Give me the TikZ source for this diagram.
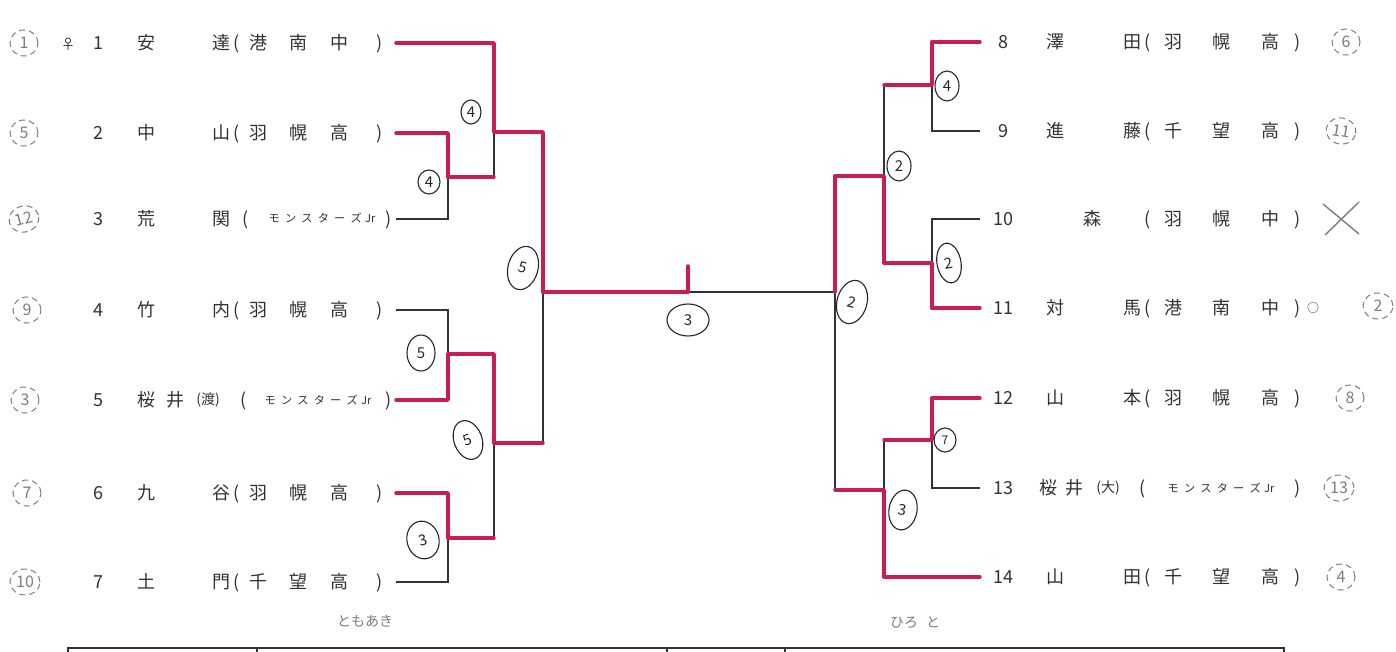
\documentclass[tikz,border=0pt]{standalone}
\usepackage{fontspec}
\setmainfont{Noto Sans CJK JP}
\usetikzlibrary{shapes.geometric}
\definecolor{pen}{RGB}{200,30,80}
\definecolor{ink}{RGB}{50,50,50}
\definecolor{pencil}{RGB}{125,125,125}
\newcommand\kana[1]{{\fontsize{5.6}{6}\selectfont #1}}
\newcommand\Lname[5]{%
  \node[txt] (ln#1) at (98,#2) {#3};
  \node[txt] (la#1) at (146,#2) {#4};
  \node[txt] (lb#1) at (221,#2) {#5};}
\newcommand\Lsch[5]{%
  \node[txt] (lo#1) at (237,#2) {(};
  \node[txt] (lx#1) at (258,#2) {#3};
  \node[txt] (ly#1) at (298,#2) {#4};
  \node[txt] (lz#1) at (339,#2) {#5};
  \node[txt] (lc#1) at (380,#2) {)};}
\newcommand\Rname[5]{%
  \node[txt] (rn#1) at (1003,#2) {#3};
  \node[txt] (ra#1) at (1055,#2) {#4};
  \node[txt] (rb#1) at (1132,#2) {#5};}
\newcommand\Rsch[5]{%
  \node[txt] (ro#1) at (1148,#2) {(};
  \node[txt] (rx#1) at (1173,#2) {#3};
  \node[txt] (ry#1) at (1221,#2) {#4};
  \node[txt] (rz#1) at (1270,#2) {#5};
  \node[txt] (rc#1) at (1298,#2) {)};}
\newcommand\mon{\kana{モ\hspace{2.6pt}ン\hspace{2.6pt}ス\hspace{2.6pt}タ\hspace{2.6pt}ー\hspace{2.6pt}ズ\hspace{1.6pt}Jr}}
\begin{document}
\begin{tikzpicture}[x=0.5pt,y=-0.5pt,
  txt/.style={inner sep=0pt, text=ink, text height=7.2pt, text depth=0.8pt, font=\fontsize{9}{9}\selectfont},
  stxt/.style={inner sep=0pt, text=ink, text height=4.6pt, text depth=0.6pt, font=\fontsize{6.5}{7}\selectfont},
  redl/.style={draw=pen, line width=1.7pt, line cap=round, line join=round},
  blkl/.style={draw=ink, line width=0.7pt},
  rc/.style={ellipse, draw=black!85, line width=0.55pt, inner sep=0pt, text=black!85, font=\fontsize{7.5}{8}\selectfont},
  seed/.style={ellipse, draw=pencil, densely dashed, line width=0.5pt, inner sep=0pt, minimum width=14pt, minimum height=13pt, text=pencil, font=\fontsize{8}{8}\selectfont},
  hand/.style={inner sep=0pt, text=pencil, font=\fontsize{7}{7}\selectfont}
]
\useasboundingbox (0,0) rectangle (1396,652);
\fill[white] (0,0) rectangle (1396,652);

% ---------- left entries ----------
\node[seed] (sd1) at (24,43) {1};
\node[txt, font=\fontsize{7}{7}\selectfont] (fem) at (68,43) {♀};
\Lname{1}{43}{1}{安}{達}\Lsch{1}{43}{港}{南}{中}
\node[seed] (sd2) at (24,133) {5};
\Lname{2}{133}{2}{中}{山}\Lsch{2}{133}{羽}{幌}{高}
\node[seed, rotate=15, minimum width=15pt] (sd3) at (24,219) {12};
\Lname{3}{219}{3}{荒}{関}
\node[txt] (lo3) at (246,219) {(};
\node[stxt] (lk3) at (322,219) {\mon};
\node[txt] (lc3) at (389,219) {)};
\node[seed] (sd4) at (27,310) {9};
\Lname{4}{310}{4}{竹}{内}\Lsch{4}{310}{羽}{幌}{高}
\node[seed] (sd5) at (25,400) {3};
\node[txt] (ln5) at (98,400) {5};
\node[txt] (la5) at (146,400) {桜};
\node[txt] (lb5) at (175,400) {井};
\node[stxt, font=\fontsize{7}{7}\selectfont] (lw5) at (208,400) {(渡)};
\node[txt] (lo5) at (244,400) {(};
\node[stxt] (lk5) at (318,400) {\mon};
\node[txt] (lc5) at (389,400) {)};
\node[seed] (sd6) at (27,493) {7};
\Lname{6}{493}{6}{九}{谷}\Lsch{6}{493}{羽}{幌}{高}
\node[seed, minimum width=15pt] (sd7) at (25,582) {10};
\Lname{7}{582}{7}{土}{門}\Lsch{7}{582}{千}{望}{高}

% ---------- right entries ----------
\Rname{8}{42}{8}{澤}{田}\Rsch{8}{42}{羽}{幌}{高}
\node[seed] (sd8) at (1346,42) {6};
\Rname{9}{131}{9}{進}{藤}\Rsch{9}{131}{千}{望}{高}
\node[seed, rotate=-10, minimum width=15pt] (sd9) at (1341,131) {11};
\node[txt] (rn10) at (1003,219) {10};
\node[txt] (ra10) at (1092,219) {森};
\Rsch{10}{219}{羽}{幌}{中}
\coordinate (x10) at (1341,219);
\draw[pencil, line width=0.7pt] ([shift={(-18,-15)}]x10) -- ([shift={(18,15)}]x10)
  ([shift={(18,-17)}]x10) -- ([shift={(-16,16)}]x10);
\Rname{11}{308}{11}{対}{馬}\Rsch{11}{308}{港}{南}{中}
\node[txt, font=\fontsize{6}{6}\selectfont] (ok11) at (1313,306) {○};
\node[seed, minimum width=15pt] (sd11) at (1378,306) {2};
\Rname{12}{398}{12}{山}{本}\Rsch{12}{398}{羽}{幌}{高}
\node[seed] (sd12) at (1350,398) {8};
\node[txt] (rn13) at (1003,488) {13};
\node[txt] (ra13) at (1048,488) {桜};
\node[txt] (rb13) at (1074,488) {井};
\node[stxt, font=\fontsize{7}{7}\selectfont] (rw13) at (1108,488) {(大)};
\node[txt] (ro13) at (1143,488) {(};
\node[stxt] (rk13) at (1221,488) {\mon};
\node[txt] (rc13) at (1298,488) {)};
\node[seed, minimum width=15pt] (sd13) at (1339,488) {13};
\Rname{14}{577}{14}{山}{田}\Rsch{14}{577}{千}{望}{高}
\node[seed] (sd14) at (1341,577) {4};

% ---------- coordinates ----------
\foreach \i/\y in {1/43,2/133,3/219,4/310,5/400,6/493,7/582}
  \coordinate (a\i) at (396,\y);
\foreach \i/\y in {8/42,9/131,10/219,11/308,12/398,13/488,14/577}
  \coordinate (b\i) at (980,\y);
\coordinate (j23) at (448,177);
\coordinate (m23) at (494,177);
\coordinate (j45) at (448,354);
\coordinate (m45) at (494,354);
\coordinate (j67) at (448,538);
\coordinate (m67) at (494,538);
\coordinate (k1) at (494,132);
\coordinate (k1r) at (543,132);
\coordinate (k2) at (494,443);
\coordinate (k2r) at (543,443);
\coordinate (F) at (543,292);
\coordinate (T) at (688,292);
\coordinate (Tt) at (688,266);
\coordinate (FR) at (835,292);
\coordinate (j89) at (932,85);
\coordinate (m89) at (884,85);
\coordinate (j1011) at (932,263);
\coordinate (m1011) at (884,263);
\coordinate (k8) at (884,176);
\coordinate (k8l) at (835,176);
\coordinate (j1213) at (932,440);
\coordinate (m1213) at (884,440);
\coordinate (k12) at (884,490);
\coordinate (k12l) at (835,490);

% ---------- black lines ----------
\draw[blkl] (a3) -| (j23);
\draw[blkl] (k1) -- (m23);
\draw[blkl] (a4) -| (j45);
\draw[blkl] (a7) -| (j67);
\draw[blkl] (m67) -- (k2);
\draw[blkl] (k2r) -- (F);
\draw[blkl] (T) -- (FR);
\draw[blkl] (FR) -- (k12l);
\draw[blkl] (b9) -| (j89);
\draw[blkl] (m89) -- (k8);
\draw[blkl] (b10) -| (j1011);
\draw[blkl] (b13) -| (j1213);
\draw[blkl] (m1213) -- (k12);

% ---------- red lines ----------
\draw[redl] (a1) -| (k1) -- (k1r) -- (F) -- (T);
\draw[redl] (T) -- (Tt);
\draw[redl] (a2) -| (j23) -- (m23);
\draw[redl] (a5) -| (j45) -- (m45) -- (k2) -- (k2r);
\draw[redl] (a6) -| (j67) -- (m67);
\draw[redl] (b8) -| (j89) -- (m89);
\draw[redl] (b11) -| (j1011) -- (m1011) -- (k8) -- (k8l) -- (FR);
\draw[redl] (b12) -| (j1213) -- (m1213);
\draw[redl] (b14) -| (k12) -- (k12l);

% ---------- score circles ----------
\node[rc, minimum width=10pt, minimum height=12pt] (c1) at (471,112) {4};
\node[rc, minimum width=11pt, minimum height=12pt] (c2) at (429,182) {4};
\node[rc, minimum width=15pt, minimum height=22pt, rotate=-15] (c3) at (523,268) {5};
\node[rc, minimum width=14pt, minimum height=18pt] (c4) at (421,353) {5};
\node[rc, minimum width=14pt, minimum height=20pt, rotate=20] (c5) at (468,440) {5};
\node[rc, minimum width=16pt, minimum height=19pt, rotate=15] (c6) at (423,540) {3};
\node[rc, minimum width=21pt, minimum height=16pt] (c7) at (688,320) {3};
\node[rc, minimum width=12pt, minimum height=15pt] (c8) at (947,86) {4};
\node[rc, minimum width=12pt, minimum height=15pt] (c9) at (899,166) {2};
\node[rc, minimum width=12pt, minimum height=20pt, rotate=10] (c10) at (949,263) {2};
\node[rc, minimum width=15pt, minimum height=22pt, rotate=-15] (c11) at (852,302) {2};
\node[rc, minimum width=11pt, minimum height=12pt, font=\fontsize{6}{6}\selectfont] (c12) at (945,440) {7};
\node[rc, minimum width=14pt, minimum height=20pt, rotate=-10] (c13) at (903,510) {3};

% ---------- handwriting ----------
\node[hand] (h1) at (365,621) {ともあき};
\node[hand] (h2) at (915,623) {ひろ\hspace{4pt}と};

% ---------- table ----------
\draw[ink, line width=1.2pt] (68,648) -- (1284,648);
\foreach \xx in {68,257,667,785,1284}
  \draw[ink, line width=0.7pt] (\xx,647) -- (\xx,656);
\end{tikzpicture}
\end{document}
